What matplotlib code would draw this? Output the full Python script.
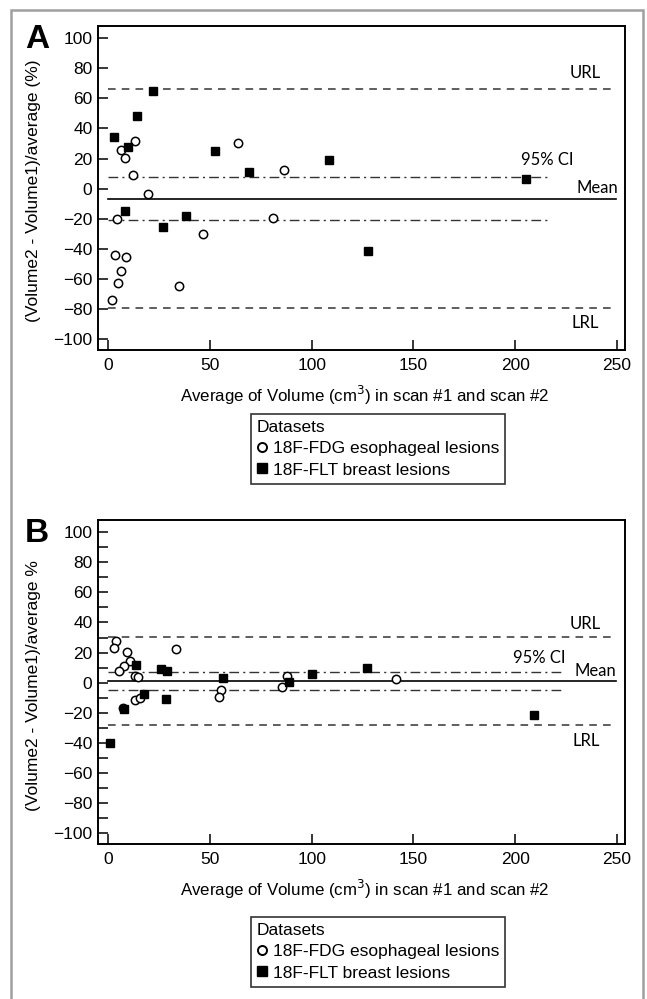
import matplotlib
matplotlib.use("Agg")
import matplotlib.pyplot as plt
from matplotlib.lines import Line2D
from matplotlib.patches import Rectangle

plt.rcParams['font.family'] = ['Liberation Sans', 'DejaVu Sans']

# Panel A - volume agreement, threshold based
fdg_x_a = [13.1, 6.4, 8.5, 12.2, 19.4, 4.1, 3.6, 9.0, 6.4, 4.8, 1.8, 46.8, 35.0, 63.7, 86.4, 81.1]
fdg_y_a = [31.8, 25.6, 20.5, 8.8, -3.8, -20.3, -43.9, -45.0, -54.3, -62.5, -73.5, -30.2, -64.7, 30.2, 12.6, -19.2]
flt_x_a = [22.0, 14.4, 3.1, 9.7, 8.4, 27.1, 38.4, 52.4, 69.1, 108.5, 205.4, 127.7]
flt_y_a = [64.7, 48.1, 34.4, 27.4, -15.0, -25.4, -17.9, 24.9, 11.3, 19.2, 6.6, -41.3]
limits_a = {"url": 66.0, "mean": -6.5, "ci_hi": 7.8, "ci_lo": -20.5, "lrl": -79.0}

# Panel B
fdg_x_b = [3.9, 3.1, 9.4, 10.5, 8.0, 5.3, 13.0, 14.6, 13.3, 15.4, 33.5, 55.5, 54.4, 7.5, 87.7, 85.2, 141.4]
fdg_y_b = [27.5, 23.1, 20.2, 14.5, 11.4, 7.5, 4.8, 3.7, -11.5, -10.2, 22.6, -4.8, -9.7, -16.5, 4.8, -3.1, 2.4]
flt_x_b = [13.8, 26.1, 29.1, 17.6, 28.6, 7.7, 1.0, 56.3, 88.8, 100.3, 127.1, 209.5]
flt_y_b = [11.9, 8.8, 7.5, -7.3, -10.8, -17.1, -39.8, 2.9, 0.4, 5.9, 9.9, -21.3]
limits_b = {"url": 30.3, "mean": 1.0, "ci_hi": 7.0, "ci_lo": -4.5, "lrl": -28.2}

x_ticks = [0, 50, 100, 150, 200, 250]
y_ticks = list(range(-100, 101, 20))
legend_labels = ["18F-FDG esophageal lesions", "18F-FLT breast lesions"]

fig = plt.figure(figsize=(6.47, 9.99), dpi=100)

# grey frame round the whole figure
fig.patches.append(Rectangle((11 / 647, -0.02), 632 / 647, 1.02 - 10 / 999,
                             transform=fig.transFigure, fill=False,
                             edgecolor='#a0a0a0', linewidth=1.8))


def panel(rect, letter, fx, fy, lx, ly, lim, ci_end, ylabel, minor, labels, leg_top):
    ax = fig.add_axes(rect)
    ax.set_xlim(-5, 254)
    ax.set_ylim(-107, 108)
    ax.set_xticks(x_ticks)
    ax.set_yticks(y_ticks)
    if minor:
        ax.set_yticks(list(range(-90, 100, 20)), minor=True)
    ax.tick_params(axis='both', direction='in', length=7.5, width=1.1, labelsize=12.5)
    ax.tick_params(axis='x', pad=6)
    ax.tick_params(axis='y', pad=4)
    ax.tick_params(axis='y', which='minor', direction='in', length=7.5, width=1.1)
    for s in ax.spines.values():
        s.set_linewidth(1.4)

    # limits of agreement
    ax.plot([0, 249.5], [lim["url"]] * 2, ls=(0, (5, 4)), color='#333333', lw=1.1)
    ax.plot([0, 249.5], [lim["lrl"]] * 2, ls=(0, (5, 4)), color='#333333', lw=1.1)
    ax.plot([0, 249.5], [lim["mean"]] * 2, color='black', lw=1.2)
    ax.plot([0, ci_end], [lim["ci_hi"]] * 2, ls=(0, (7, 3, 1.5, 3)), color='#333333', lw=1.0)
    ax.plot([0, ci_end], [lim["ci_lo"]] * 2, ls=(0, (7, 3, 1.5, 3)), color='#333333', lw=1.0)

    ax.plot(fx, fy, 'o', ms=6, mfc='white', mec='black', mew=1.1, ls='none')
    ax.plot(lx, ly, 's', ms=5.5, mfc='black', mec='black', ls='none')

    for txt, (px, py) in labels.items():
        ax.text(px, py, txt, ha='center', va='center', fontsize=12,
                family=['Lato', 'DejaVu Sans'])

    ax.set_xlabel("Average of Volume (cm$^3$) in scan #1 and scan #2", fontsize=12.2)
    ax.set_ylabel(ylabel, fontsize=12.5)
    ax.xaxis.set_label_coords(0.506, -0.105)
    ax.yaxis.set_label_coords(-0.108, 0.49)

    fig.text(37 / 647, rect[1] + rect[3] - 14 / 999, letter, fontsize=24,
             fontweight='bold', ha='center', va='center')

    handles = [Line2D([], [], marker='o', ls='none', ms=6.5, mfc='white', mec='black', mew=1.4),
               Line2D([], [], marker='s', ls='none', ms=7, mfc='black', mec='black')]
    leg = ax.legend(handles, legend_labels, title='Datasets', loc='upper left',
                    bbox_to_anchor=(251 / 647, leg_top), bbox_transform=fig.transFigure,
                    fontsize=12.5, title_fontsize=12.5, frameon=True, fancybox=False,
                    edgecolor='black', borderpad=0.35, handlelength=0.6,
                    handletextpad=0.3, labelspacing=0.35, borderaxespad=0,
                    alignment='left')
    leg.get_frame().set_linewidth(1.2)
    return ax


panel([98 / 647, 1 - 350 / 999, 527 / 647, 324 / 999], 'A',
      fdg_x_a, fdg_y_a, flt_x_a, flt_y_a, limits_a, 217,
      "(Volume2 - Volume1)/average (%)", False,
      {"URL": (234.5, 76.5), "95% CI": (215.8, 18.9), "Mean": (240.2, 0.8), "LRL": (234.5, -89)},
      1 - 414 / 999)

panel([98 / 647, 1 - 844 / 999, 527 / 647, 324 / 999], 'B',
      fdg_x_b, fdg_y_b, flt_x_b, flt_y_b, limits_b, 222.5,
      "(Volume2 - Volume1)/average %", True,
      {"URL": (234.5, 39.2), "95% CI": (211.9, 16.7), "Mean": (239.4, 7.5), "LRL": (235, -38.8)},
      1 - 917 / 999)

fig.savefig("out.png", dpi=100)
